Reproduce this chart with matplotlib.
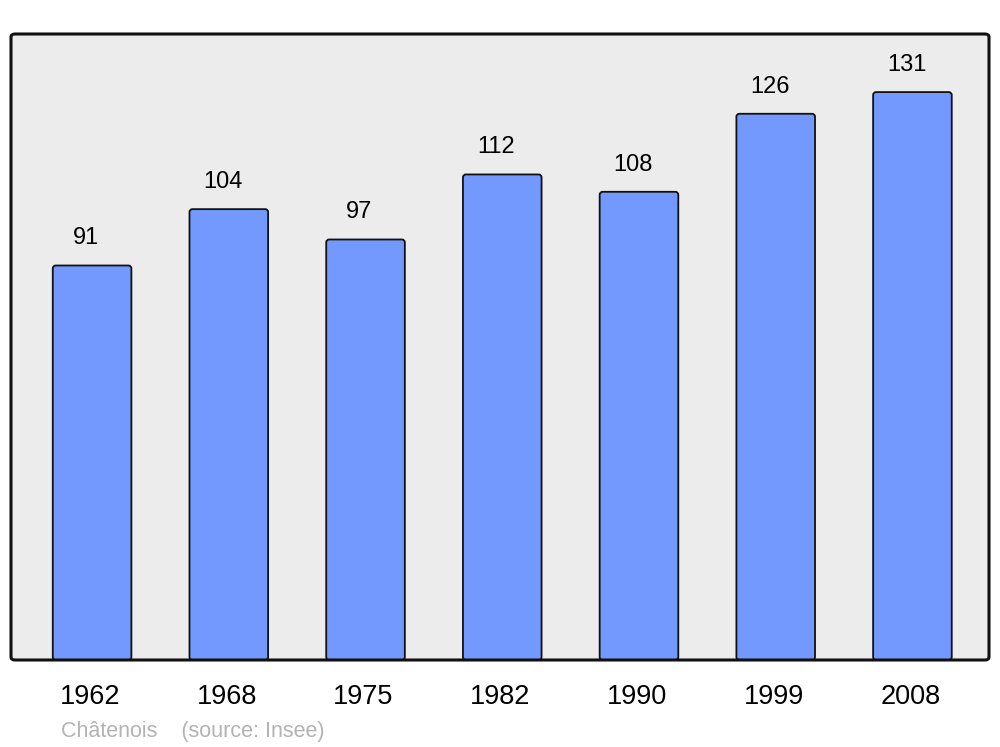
import matplotlib
matplotlib.use("Agg")
import matplotlib.pyplot as plt
from matplotlib.patches import FancyBboxPatch
from matplotlib.transforms import ScaledTranslation

years = ["1962", "1968", "1975", "1982", "1990", "1999", "2008"]
population = [91, 104, 97, 112, 108, 126, 131]

plt.rcParams['font.family'] = ['Liberation Sans', 'DejaVu Sans']

fig = plt.figure(figsize=(10, 7.47), dpi=100)
ax = fig.add_axes([0.011, 87 / 747, 0.978, 626 / 747])
ax.set_facecolor('#ececec')
ax.set_xlim(-0.593, 6.56)
ax.set_ylim(0, 144.4)

x = list(range(len(years)))
bars = ax.bar(x, population, width=0.575, color='#7399ff', edgecolor='#111111',
              linewidth=1.3, zorder=2)
# replace with rounded-corner patches of the same geometry
px_x = (6.56 + 0.593) / 978
px_y = 144.4 / 626
for b in bars:
    bx, by = b.get_x(), b.get_y()
    bw, bh = b.get_width(), b.get_height()
    rp = FancyBboxPatch((bx, by), bw, bh,
                        boxstyle=f'round,pad=0,rounding_size={3 * px_x}',
                        mutation_aspect=px_y / px_x,
                        facecolor='#7399ff', edgecolor='#111111',
                        linewidth=1.3, zorder=2)
    ax.add_patch(rp)
    b.set_visible(False)

for xi, v in zip(x, population):
    ax.annotate(str(v), (xi, v), xytext=(-4.3, 19.5), textcoords='offset points',
                ha='center', va='center', fontsize=17, color='black')

ax.set_xticks(x)
ax.set_xticklabels(years, fontsize=19.5)
ax.tick_params(axis='x', length=0, pad=17)
off = ScaledTranslation(-2 / 100, 0, fig.dpi_scale_trans)
for lbl in ax.get_xticklabels():
    lbl.set_transform(lbl.get_transform() + off)
ax.set_yticks([])
for s in ax.spines.values():
    s.set_visible(False)

# rounded frame
frame = FancyBboxPatch((11 / 1000, 87 / 747), 978 / 1000, 626 / 747,
                       boxstyle='round,pad=0,rounding_size=0.004',
                       transform=fig.transFigure, facecolor='none',
                       edgecolor='#111111', linewidth=2.2, zorder=10)
fig.patches.append(frame)

fig.text(0.061, 1 - 731 / 747, "Châtenois    (source: Insee)", fontsize=15.5,
         color='#b3b3b3', ha='left', va='center')

fig.savefig('out.png', dpi=100)
